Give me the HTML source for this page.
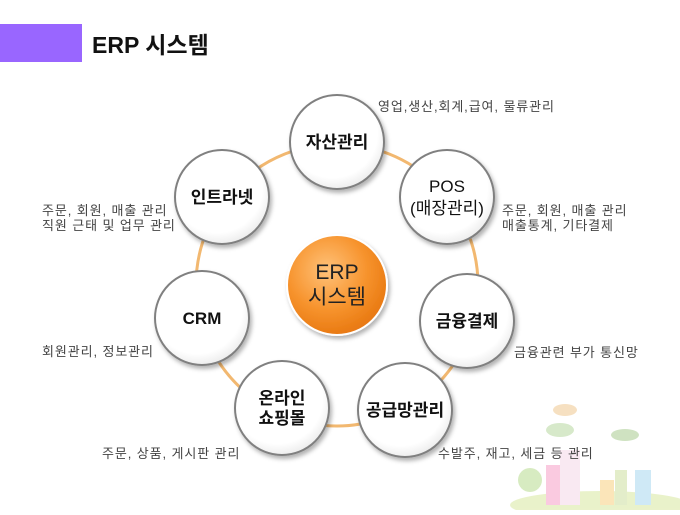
<!DOCTYPE html>
<html><head><meta charset="utf-8"><style>
body{margin:0;width:680px;height:510px;background:#fff;overflow:hidden;font-family:"Liberation Sans","Noto Sans CJK KR",sans-serif;}
</style></head><body>
<svg width="680" height="510" viewBox="0 0 680 510" xmlns="http://www.w3.org/2000/svg" font-family="Liberation Sans, Noto Sans CJK KR, sans-serif">
<defs>
<radialGradient id="og" cx="40%" cy="35%" r="65%">
<stop offset="0" stop-color="#ffc27a"/><stop offset="0.6" stop-color="#f7942e"/><stop offset="1" stop-color="#e97a12"/>
</radialGradient>
<radialGradient id="wg" cx="45%" cy="40%" r="60%">
<stop offset="0.8" stop-color="#ffffff"/><stop offset="1" stop-color="#eeeeee"/>
</radialGradient>
<filter id="sh" x="-20%" y="-20%" width="150%" height="150%"><feDropShadow dx="2" dy="3" stdDeviation="2" flood-color="#000" flood-opacity="0.3"/></filter>
</defs>
<rect x="0" y="24" width="82" height="38" fill="#9966ff"/>
<text x="92" y="53" font-size="23" font-weight="bold" fill="#111">ERP 시스템</text>
<circle cx="337" cy="285" r="141" fill="none" stroke="#f2b870" stroke-width="3"/>
<g opacity="0.55">
<ellipse cx="600" cy="505" rx="90" ry="14" fill="#d8e8a0"/>
<rect x="546" y="465" width="16" height="40" fill="#f6a0c8"/>
<rect x="560" y="450" width="20" height="55" fill="#f5d8e8"/>
<rect x="600" y="480" width="14" height="25" fill="#f8d080"/>
<rect x="615" y="470" width="12" height="35" fill="#cde0a0"/>
<rect x="635" y="470" width="16" height="35" fill="#a8d8f0"/>
<circle cx="530" cy="480" r="12" fill="#b8dc90"/>
<ellipse cx="560" cy="430" rx="14" ry="7" fill="#b8d8a0"/>
<ellipse cx="625" cy="435" rx="14" ry="6" fill="#a8cc90"/>
<ellipse cx="565" cy="410" rx="12" ry="6" fill="#f0c890"/>
</g>
<g filter="url(#sh)">
<circle cx="337" cy="285" r="50" fill="url(#og)" stroke="#fff" stroke-width="2"/>
<g fill="url(#wg)" stroke="#808080" stroke-width="2">
<circle cx="337" cy="142" r="47"/>
<circle cx="447" cy="197" r="47"/>
<circle cx="467" cy="321" r="47"/>
<circle cx="405" cy="410" r="47"/>
<circle cx="282" cy="408" r="47"/>
<circle cx="202" cy="318" r="47"/>
<circle cx="222" cy="197" r="47"/>
</g>
</g>
<g text-anchor="middle" fill="#111" font-size="17">
<text x="337" y="279" font-size="21" fill="#222">ERP</text>
<text x="337" y="304" font-size="21" fill="#222">시스템</text>
<text x="337" y="148" font-weight="bold">자산관리</text>
<text x="447" y="192">POS</text>
<text x="447" y="214">(매장관리)</text>
<text x="467" y="327" font-weight="bold">금융결제</text>
<text x="405" y="416" font-weight="bold">공급망관리</text>
<text x="282" y="404" font-weight="bold">온라인</text>
<text x="282" y="424" font-weight="bold">쇼핑몰</text>
<text x="202" y="324" font-weight="bold">CRM</text>
<text x="222" y="203" font-weight="bold">인트라넷</text>
</g>
<g fill="#444" font-size="13" letter-spacing="0.9">
<text x="378" y="111">영업,생산,회계,급여, 물류관리</text>
<text x="502" y="215">주문, 회원, 매출 관리</text>
<text x="502" y="230">매출통계, 기타결제</text>
<text x="514" y="357">금융관련 부가 통신망</text>
<text x="438" y="458">수발주, 재고, 세금 등 관리</text>
<text x="102" y="458">주문, 상품, 게시판 관리</text>
<text x="42" y="356">회원관리, 정보관리</text>
<text x="42" y="215">주문, 회원, 매출 관리</text>
<text x="42" y="230">직원 근태 및 업무 관리</text>
</g>
</svg>
</body></html>
